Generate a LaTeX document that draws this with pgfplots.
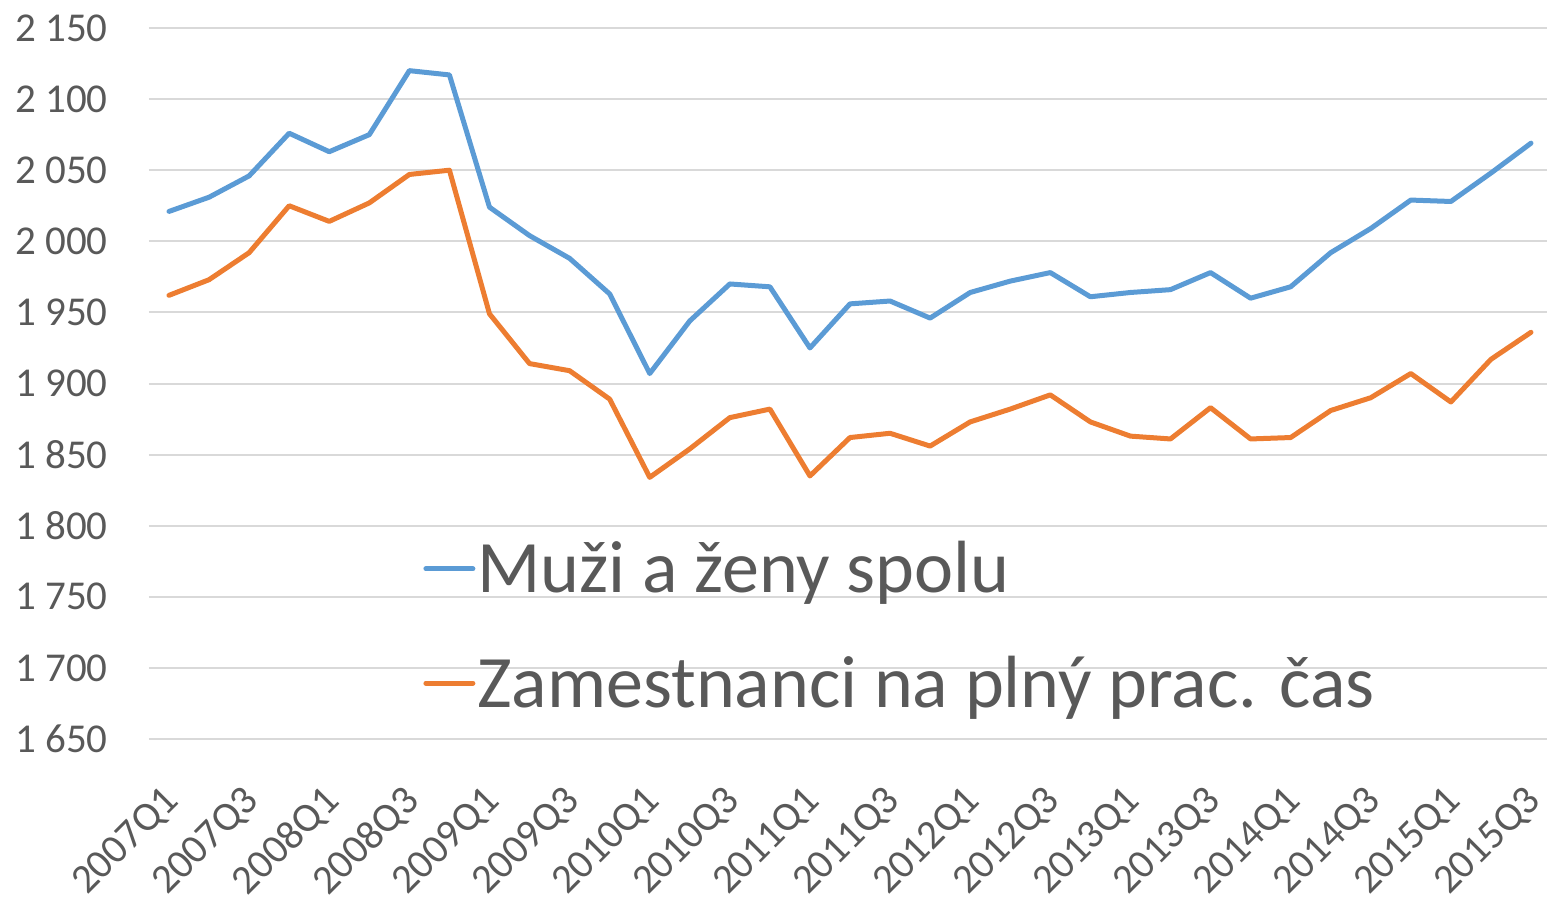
\documentclass[border=0pt]{standalone}
\usepackage{pgfplots}
\pgfplotsset{compat=1.18}
\usepackage{fontspec}
\setmainfont{Carlito}
\definecolor{sblue}{HTML}{5B9BD5}
\definecolor{sorange}{HTML}{ED7D31}
\definecolor{tgray}{HTML}{595959}
\definecolor{ggray}{HTML}{D9D9D9}
\pgfplotstableread{
x y
0 2021
1 2031
2 2046
3 2076
4 2063
5 2075
6 2120
7 2117
8 2024
9 2004
10 1988
11 1963
12 1907
13 1944
14 1970
15 1968
16 1925
17 1956
18 1958
19 1946
20 1964
21 1972
22 1978
23 1961
24 1964
25 1966
26 1978
27 1960
28 1968
29 1992
30 2009
31 2029
32 2028
33 2048
34 2069
}\tblue
\pgfplotstableread{
x y
0 1962
1 1973
2 1992
3 2025
4 2014
5 2027
6 2047
7 2050
8 1949
9 1914
10 1909
11 1889
12 1834
13 1854
14 1876
15 1882
16 1835
17 1862
18 1865
19 1856
20 1873
21 1882
22 1892
23 1873
24 1863
25 1861
26 1883
27 1861
28 1862
29 1881
30 1890
31 1907
32 1887
33 1917
34 1936
}\torange
\begin{document}
\begin{tikzpicture}
\begin{axis}[
  at={(0,0)}, anchor=south west,
  scale only axis,
  width=699pt, height=355.5pt,
  xmin=-0.5, xmax=34.4,
  ymin=1650, ymax=2150,
  ytick={1650,1700,...,2150},
  xtick={0,2,...,34},
  xticklabels={2007Q1,2007Q3,2008Q1,2008Q3,2009Q1,2009Q3,2010Q1,2010Q3,2011Q1,2011Q3,2012Q1,2012Q3,2013Q1,2013Q3,2014Q1,2014Q3,2015Q1,2015Q3},
  axis line style={draw=none},
  major tick length=0pt,
  ymajorgrids,
  grid style={color=ggray, line width=1pt},
  tick label style={font=\fontsize{20.5}{24}\selectfont, text=tgray},
  /pgf/number format/assume math mode=true,
  /pgf/number format/1000 sep={\ },
  yticklabel style={anchor=east, inner sep=0pt, xshift=-20.5pt},
  xticklabel style={inner sep=0pt, xshift=2pt, yshift=-28pt, rotate=45, anchor=east},
  legend style={draw=none, fill=none, at={(rel axis cs:0.196,0.281)}, anchor=north west,
    font=\fontsize{37}{44}\selectfont, text=tgray, inner sep=0pt, row sep=28pt,
    nodes={inner sep=1pt}},
  legend cell align=left,
  legend image code/.code={\draw[#1] (0pt,0pt) -- (23.5pt,0pt);},
]
\addplot[color=sblue, line width=2.5pt, line join=round, line cap=round] table[x=x,y=y]{\tblue};
\addlegendentry{Muži a ženy spolu}
\addplot[color=sorange, line width=2.5pt, line join=round, line cap=round] table[x=x,y=y]{\torange};
\addlegendentry{Zamestnanci na plný prac. čas}
\end{axis}
\pgfresetboundingbox
\useasboundingbox (-74.5pt,-83pt) rectangle (699pt,369.5pt);
\end{tikzpicture}
\end{document}
